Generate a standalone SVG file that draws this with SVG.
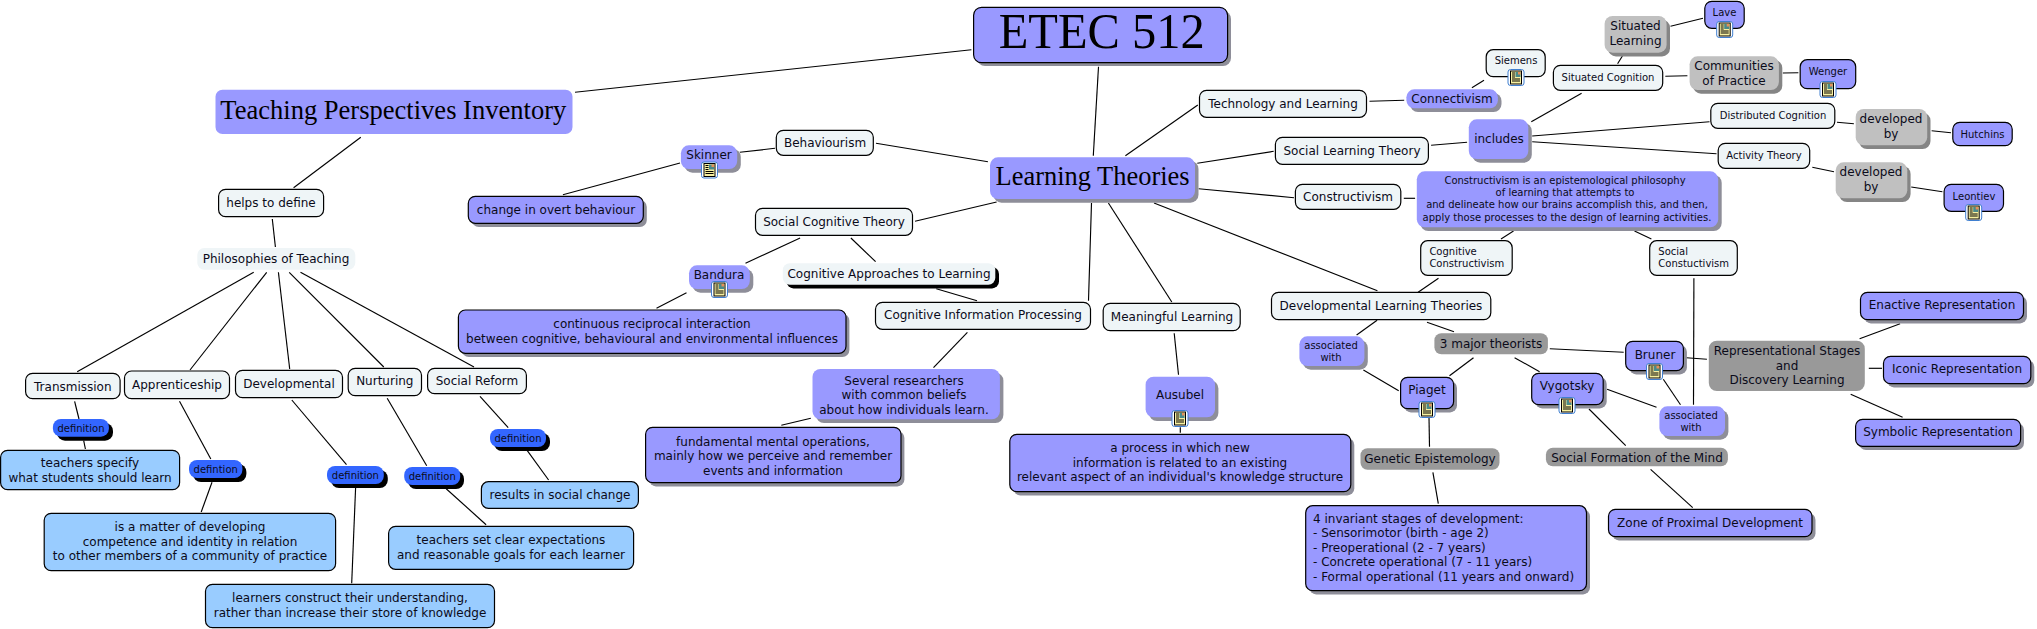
<svg xmlns="http://www.w3.org/2000/svg" width="2037" height="629" viewBox="0 0 2037 629">
<style>
text{font-family:"DejaVu Sans","Liberation Sans",sans-serif;font-size:12px;fill:#0b0b1a;text-anchor:middle}
.s{font-size:10px}
.l{text-anchor:start}
.p{font-family:"Liberation Serif",serif;fill:#000}
.k{stroke:#000;stroke-width:1.2}
.pl{fill:#9999ff}.w{fill:#eff5f7}.g1{fill:#c0c0c0}.g2{fill:#999999}.b{fill:#3366ff}.lb{fill:#99ccff}
.sg{fill:#8e8e99}.sd{fill:#858585}.sk{fill:#000}
#connectors line{stroke:#000;stroke-width:1.15}
</style>
<defs>
<g id="icon">
<rect x="0.5" y="0.5" width="16" height="16" rx="2.5" fill="#fff" stroke="#3f7fd0" stroke-width="1"/>
<rect x="3" y="2" width="11" height="13" fill="#f7f0a0" stroke="#000" stroke-width="1"/>
<rect x="8" y="3" width="5" height="5" fill="#4a8a8a"/>
<rect x="10.5" y="3" width="2.5" height="2.5" fill="#e8905a"/>
<path d="M4.5 4h3M4.5 6h3M4.5 8h3M4.5 10h8M4.5 12h8" stroke="#000" stroke-width="1" fill="none"/>
</g>
</defs>
<g id="connectors">
<line x1="575" y1="92.3" x2="971.4" y2="49.7"/>
<line x1="360.8" y1="137.3" x2="293.6" y2="187.7"/>
<line x1="272.3" y1="219" x2="275.4" y2="247"/>
<line x1="562.9" y1="194.7" x2="680" y2="163"/>
<line x1="253.7" y1="272.3" x2="77.2" y2="371.7"/>
<line x1="266.7" y1="272.3" x2="190" y2="370"/>
<line x1="278.4" y1="272.3" x2="289.7" y2="369"/>
<line x1="289.2" y1="272.3" x2="383.8" y2="367"/>
<line x1="300.5" y1="272.3" x2="474" y2="367"/>
<line x1="74.6" y1="401.3" x2="79" y2="419"/>
<line x1="83.7" y1="440.7" x2="85.4" y2="449"/>
<line x1="179.5" y1="401.3" x2="210.8" y2="459"/>
<line x1="212" y1="482.3" x2="201.2" y2="512"/>
<line x1="291.8" y1="400" x2="346.5" y2="464.7"/>
<line x1="355.6" y1="487.7" x2="351.7" y2="583.3"/>
<line x1="387.2" y1="398.3" x2="426.7" y2="465.7"/>
<line x1="446.2" y1="488.7" x2="486.1" y2="524.7"/>
<line x1="480" y1="396.3" x2="508.2" y2="427.7"/>
<line x1="527.3" y1="450.7" x2="548.6" y2="480"/>
<line x1="1098.5" y1="66.7" x2="1093.3" y2="155.7"/>
<line x1="876" y1="143.3" x2="987.9" y2="161.7"/>
<line x1="775" y1="148.3" x2="739.8" y2="152.3"/>
<line x1="1125.4" y1="155.7" x2="1197.8" y2="105"/>
<line x1="1197.3" y1="163.3" x2="1273.7" y2="151.3"/>
<line x1="1198.6" y1="188.7" x2="1294" y2="197.7"/>
<line x1="996.6" y1="202" x2="915" y2="221.3"/>
<line x1="1091.5" y1="203" x2="1088.5" y2="300.7"/>
<line x1="1108.4" y1="203" x2="1171.8" y2="302"/>
<line x1="1154" y1="203" x2="1377.4" y2="290.7"/>
<line x1="800.1" y1="238" x2="745.5" y2="263.3"/>
<line x1="850.9" y1="238" x2="875.6" y2="261.7"/>
<line x1="936.3" y1="288.7" x2="977" y2="300.7"/>
<line x1="686.5" y1="292.7" x2="656.5" y2="308.3"/>
<line x1="967.4" y1="332.3" x2="933.5" y2="367.7"/>
<line x1="810.8" y1="418.3" x2="781.3" y2="425.3"/>
<line x1="1174.2" y1="333.3" x2="1178.5" y2="374.7"/>
<line x1="1180.3" y1="427.3" x2="1180.3" y2="432.7"/>
<line x1="1369.5" y1="101.3" x2="1404.2" y2="100.3"/>
<line x1="1471.9" y1="87.7" x2="1484" y2="80.3"/>
<line x1="1431.1" y1="145.3" x2="1467.1" y2="142.3"/>
<line x1="1531.3" y1="121.7" x2="1581.6" y2="93.3"/>
<line x1="1617.6" y1="63.7" x2="1622.4" y2="56"/>
<line x1="1670.5" y1="26.3" x2="1703" y2="18.3"/>
<line x1="1665.3" y1="76.3" x2="1687.4" y2="75.7"/>
<line x1="1782.8" y1="73" x2="1798.4" y2="72.7"/>
<line x1="1532.2" y1="136" x2="1709.5" y2="121.7"/>
<line x1="1532.2" y1="141.7" x2="1716.5" y2="153.7"/>
<line x1="1837" y1="122.3" x2="1853.9" y2="123.7"/>
<line x1="1931.6" y1="130.7" x2="1951" y2="132.7"/>
<line x1="1812.3" y1="167.3" x2="1834" y2="171.7"/>
<line x1="1911.2" y1="187" x2="1942.4" y2="191.7"/>
<line x1="1403.8" y1="198.3" x2="1415.1" y2="198.3"/>
<line x1="1513.5" y1="231" x2="1501" y2="239"/>
<line x1="1634.5" y1="231" x2="1651.4" y2="239"/>
<line x1="1438.5" y1="278.3" x2="1418.1" y2="292.3"/>
<line x1="1693.9" y1="278.3" x2="1693.5" y2="404.7"/>
<line x1="1427" y1="322.3" x2="1454" y2="331.7"/>
<line x1="1377.1" y1="320.3" x2="1356.6" y2="335"/>
<line x1="1363.4" y1="370" x2="1398.7" y2="390.7"/>
<line x1="1473.5" y1="357.7" x2="1449.5" y2="375.7"/>
<line x1="1514.6" y1="357.7" x2="1539.6" y2="371.7"/>
<line x1="1549.8" y1="348.7" x2="1623.7" y2="352.3"/>
<line x1="1686.3" y1="357.7" x2="1706.9" y2="359.3"/>
<line x1="1663.3" y1="379.3" x2="1680.5" y2="404.7"/>
<line x1="1607.1" y1="389.3" x2="1656.5" y2="407.3"/>
<line x1="1589" y1="409" x2="1625.7" y2="445.7"/>
<line x1="1429" y1="417.3" x2="1429.5" y2="446.7"/>
<line x1="1432.9" y1="472.3" x2="1438.3" y2="503.7"/>
<line x1="1650.6" y1="469.3" x2="1692.7" y2="507.7"/>
<line x1="1859.6" y1="338.7" x2="1900.1" y2="323.7"/>
<line x1="1868.8" y1="368.3" x2="1882" y2="368.3"/>
<line x1="1850.7" y1="394.3" x2="1902.6" y2="417.3"/>
</g>
<g id="n-etec"><rect class="sg" x="977" y="11" width="254" height="55" rx="8"/><rect class="pl k" x="973.6" y="7.3" width="254" height="55.4" rx="8"/><text class="p" x="1101.7" y="48" style="font-size:50px" textLength="206" lengthAdjust="spacingAndGlyphs">ETEC 512</text></g>
<g id="n-tpi"><rect class="pl" x="215.5" y="89.7" width="357" height="44.3" rx="7"/><text class="p" x="393.3" y="119" style="font-size:27px" textLength="346" lengthAdjust="spacingAndGlyphs">Teaching Perspectives Inventory</text></g>
<g id="n-helps"><rect class="w k" x="218.6" y="189.3" width="105" height="27.4" rx="7"/><text x="271" y="206.5">helps to define</text></g>
<g id="n-phil"><rect class="w" x="197.3" y="248" width="158" height="21.7" rx="7"/><text x="276" y="262.5">Philosophies of Teaching</text></g>
<g id="n-trans"><rect class="w k" x="25.6" y="373.3" width="94.5" height="25.4" rx="7"/><text x="72.8" y="390.5">Transmission</text></g>
<g id="n-appr"><rect class="w k" x="124.5" y="371" width="105" height="27.7" rx="7"/><text x="177" y="388.5">Apprenticeship</text></g>
<g id="n-devl"><rect class="w k" x="235.5" y="370.3" width="107" height="27.4" rx="7"/><text x="289" y="387.5">Developmental</text></g>
<g id="n-nurt"><rect class="w k" x="348.2" y="368.3" width="73.3" height="27.4" rx="7"/><text x="384.8" y="385">Nurturing</text></g>
<g id="n-refo"><rect class="w k" x="427.6" y="368.3" width="98.8" height="25.4" rx="7"/><text x="477" y="385">Social Reform</text></g>
<g id="n-def1"><rect class="sk" x="57" y="423" width="56" height="17.7" rx="8"/><rect class="b" x="52.9" y="419" width="56" height="17.7" rx="8"/><text class="s" x="81" y="431.5">definition</text></g>
<g id="n-def2"><rect class="sk" x="193" y="464" width="53.4" height="18" rx="8"/><rect class="b" x="189" y="460" width="53.4" height="18" rx="8"/><text class="s" x="215.7" y="472.5">defintion</text></g>
<g id="n-def3"><rect class="sk" x="331" y="470" width="56.8" height="18" rx="8"/><rect class="b" x="327" y="466" width="56.8" height="18" rx="8"/><text class="s" x="355.4" y="478.5">definition</text></g>
<g id="n-def4"><rect class="sk" x="408" y="471" width="56" height="18" rx="8"/><rect class="b" x="404.2" y="467" width="56" height="18" rx="8"/><text class="s" x="432.2" y="479.5">definition</text></g>
<g id="n-def5"><rect class="sk" x="494" y="433" width="56" height="18" rx="8"/><rect class="b" x="490" y="429" width="56" height="18" rx="8"/><text class="s" x="518" y="441.5">definition</text></g>
<g id="n-d1"><rect class="lb k" x="0.6" y="450.3" width="179" height="39.4" rx="7"/><text x="90" y="467">teachers specify</text><text x="90" y="481.7">what students should learn</text></g>
<g id="n-d2"><rect class="lb k" x="44.2" y="513.3" width="291.4" height="57.4" rx="7"/><text x="190" y="531">is a matter of developing</text><text x="190" y="545.6">competence and identity in relation</text><text x="190" y="560.3">to other members of a community of practice</text></g>
<g id="n-d3"><rect class="lb k" x="205.5" y="584.3" width="289" height="43.4" rx="7"/><text x="350" y="602">learners construct their understanding,</text><text x="350" y="616.6">rather than increase their store of knowledge</text></g>
<g id="n-d4"><rect class="lb k" x="388.6" y="526.3" width="245" height="43" rx="7"/><text x="511" y="544">teachers set clear expectations</text><text x="511" y="558.6">and reasonable goals for each learner</text></g>
<g id="n-d5"><rect class="lb k" x="481.4" y="481.7" width="157" height="26.6" rx="7"/><text x="560" y="498.5">results in social change</text></g>
<g id="n-change"><rect class="sg" x="471.8" y="200" width="175" height="27" rx="7"/><rect class="pl k" x="468.3" y="196.3" width="175" height="27" rx="7"/><text x="556" y="213.5">change in overt behaviour</text></g>
<g id="n-behav"><rect class="w k" x="776.3" y="130.3" width="97" height="25" rx="7"/><text x="825" y="147">Behaviourism</text></g>
<g id="n-skinner"><rect class="sg" x="684.5" y="149" width="56.3" height="23.7" rx="8"/><rect class="pl" x="680.9" y="145.3" width="56.3" height="23.7" rx="8"/><text x="709" y="159">Skinner</text><use href="#icon" x="701" y="161.5"/></g>
<g id="n-lt"><rect class="sg" x="993.5" y="161" width="205" height="41.7" rx="8"/><rect class="pl" x="990" y="157.3" width="205" height="41.7" rx="8"/><text class="p" x="1092.6" y="185" style="font-size:27px" textLength="194" lengthAdjust="spacingAndGlyphs">Learning Theories</text></g>
<g id="n-sct"><rect class="w k" x="755.5" y="208.3" width="157" height="27" rx="7"/><text x="834" y="225.5">Social Cognitive Theory</text></g>
<g id="n-bandura"><rect class="sg" x="692.5" y="269" width="60.8" height="23.7" rx="8"/><rect class="pl" x="689" y="265.3" width="60.8" height="23.7" rx="8"/><text x="719" y="279">Bandura</text><use href="#icon" x="711" y="281"/></g>
<g id="n-cal"><rect class="sk" x="786.5" y="267" width="212.5" height="21.4" rx="7"/><rect class="w" x="782.8" y="263.3" width="212.5" height="21.4" rx="7"/><text x="889" y="277.5">Cognitive Approaches to Learning</text></g>
<g id="n-cont"><rect class="sg" x="461.8" y="313.7" width="387.6" height="43.3" rx="7"/><rect class="pl k" x="458.4" y="310" width="387.6" height="43.3" rx="7"/><text x="652" y="328">continuous reciprocal interaction</text><text x="652" y="342.6">between cognitive, behavioural and environmental influences</text></g>
<g id="n-cip"><rect class="w k" x="875.5" y="302.3" width="215" height="27" rx="7"/><text x="983" y="319">Cognitive Information Processing</text></g>
<g id="n-several"><rect class="sg" x="816" y="372.7" width="187.4" height="50.3" rx="8"/><rect class="pl" x="812.5" y="369" width="187.4" height="50.3" rx="8"/><text x="904" y="384.5">Several researchers</text><text x="904" y="399">with common beliefs</text><text x="904" y="413.6">about how individuals learn.</text></g>
<g id="n-fund"><rect class="sg" x="649" y="431" width="255.4" height="55.4" rx="7"/><rect class="pl k" x="645.6" y="427.3" width="255.4" height="55.4" rx="7"/><text x="773" y="445.5">fundamental mental operations,</text><text x="773" y="460">mainly how we perceive and remember</text><text x="773" y="474.6">events and information</text></g>
<g id="n-ml"><rect class="w k" x="1103.2" y="303.3" width="137" height="27.4" rx="7"/><text x="1172" y="320.5">Meaningful Learning</text></g>
<g id="n-ausubel"><rect class="sg" x="1149" y="380.4" width="69.4" height="40.6" rx="8"/><rect class="pl" x="1145.6" y="376.7" width="69.4" height="40.6" rx="8"/><text x="1180" y="399">Ausubel</text><use href="#icon" x="1171.5" y="410"/></g>
<g id="n-proc"><rect class="sg" x="1013.3" y="438" width="341" height="57.4" rx="7"/><rect class="pl k" x="1009.8" y="434.3" width="341" height="57.4" rx="7"/><text x="1180" y="452">a process in which new</text><text x="1180" y="466.6">information is related to an existing</text><text x="1180" y="481.2">relevant aspect of an individual's knowledge structure</text></g>
<g id="n-tech"><rect class="w k" x="1199.5" y="90.3" width="167" height="27" rx="7"/><text x="1283" y="107.5">Technology and Learning</text></g>
<g id="n-slt"><rect class="w k" x="1275.4" y="137.3" width="153" height="27" rx="7"/><text x="1352" y="154.5">Social Learning Theory</text></g>
<g id="n-con"><rect class="w k" x="1295.4" y="184.3" width="105.4" height="25" rx="7"/><text x="1348" y="201">Constructivism</text></g>
<g id="n-dlt"><rect class="w k" x="1271.5" y="292.3" width="219.3" height="27.4" rx="7"/><text x="1381" y="309.5">Developmental Learning Theories</text></g>
<g id="n-conn"><rect class="sg" x="1410" y="93" width="91.5" height="19" rx="8"/><rect class="pl" x="1406.4" y="89.3" width="91.5" height="19" rx="8"/><text x="1452" y="103">Connectivism</text></g>
<g id="n-siemens"><rect class="w k" x="1486.2" y="49.7" width="59" height="27" rx="7"/><text class="s" x="1516" y="64">Siemens</text><use href="#icon" x="1507.5" y="69"/></g>
<g id="n-sitc"><rect class="w k" x="1553.4" y="65.3" width="109.3" height="25" rx="7"/><text class="s" x="1608" y="80.5">Situated Cognition</text></g>
<g id="n-sitl"><rect class="sd" x="1608" y="19.7" width="62" height="36.7" rx="8"/><rect class="g1" x="1604.6" y="16" width="62" height="36.7" rx="8"/><text x="1635.5" y="30">Situated</text><text x="1635.5" y="44.6">Learning</text></g>
<g id="n-lave"><rect class="pl k" x="1704.8" y="1.3" width="39.4" height="27" rx="7"/><text class="s" x="1724.5" y="16">Lave</text><use href="#icon" x="1716.2" y="21"/></g>
<g id="n-comm"><rect class="sd" x="1693" y="60" width="89.3" height="33.7" rx="8"/><rect class="g1" x="1689.6" y="56.3" width="89.3" height="33.7" rx="8"/><text x="1734" y="70">Communities</text><text x="1734" y="84.6">of Practice</text></g>
<g id="n-wenger"><rect class="pl k" x="1800.2" y="59.7" width="55.5" height="29" rx="7"/><text class="s" x="1828" y="74.5">Wenger</text><use href="#icon" x="1819.5" y="81"/></g>
<g id="n-incl"><rect class="sg" x="1472.3" y="123" width="59.5" height="39.7" rx="8"/><rect class="pl" x="1468.8" y="119.3" width="59.5" height="39.7" rx="8"/><text x="1499" y="143">includes</text></g>
<g id="n-dist"><rect class="w k" x="1710.8" y="103.3" width="124" height="25" rx="7"/><text class="s" x="1773" y="119">Distributed Cognition</text></g>
<g id="n-act"><rect class="w k" x="1718.2" y="143.3" width="91.5" height="25" rx="7"/><text class="s" x="1764" y="159">Activity Theory</text></g>
<g id="n-dev1"><rect class="sd" x="1859" y="112.7" width="71.5" height="36.3" rx="8"/><rect class="g1" x="1855.7" y="109" width="71.5" height="36.3" rx="8"/><text x="1891" y="123">developed</text><text x="1891" y="137.6">by</text></g>
<g id="n-hutch"><rect class="pl k" x="1952.8" y="122.3" width="59.4" height="23.4" rx="7"/><text class="s" x="1982.5" y="137.5">Hutchins</text></g>
<g id="n-dev2"><rect class="sd" x="1839" y="166" width="71.6" height="36" rx="8"/><rect class="g1" x="1835.7" y="162.3" width="71.6" height="36" rx="8"/><text x="1871" y="176">developed</text><text x="1871" y="190.6">by</text></g>
<g id="n-leon"><rect class="pl k" x="1944.1" y="184.3" width="59.4" height="27" rx="7"/><text class="s" x="1974" y="199.5">Leontiev</text><use href="#icon" x="1965.2" y="204"/></g>
<g id="n-desc"><rect class="sg" x="1420.3" y="175" width="301.4" height="56" rx="8"/><rect class="pl" x="1416.8" y="171.3" width="301.4" height="56" rx="8"/><text class="s" x="1565" y="184">Constructivism is an epistemological philosophy</text><text class="s" x="1565" y="196">of learning that attempts to</text><text class="s" x="1567" y="208">and delineate how our brains accomplish this, and then,</text><text class="s" x="1567" y="220.5">apply those processes to the design of learning activities.</text></g>
<g id="n-cogc"><rect class="w k" x="1420.7" y="240.7" width="91.5" height="34.6" rx="7"/><text class="s l" x="1429.4" y="255">Cognitive</text><text class="s l" x="1429.4" y="267">Constructivism</text></g>
<g id="n-socc"><rect class="w k" x="1649.7" y="240.7" width="87.6" height="34.6" rx="7"/><text class="s l" x="1658.3" y="255">Social</text><text class="s l" x="1658.3" y="267">Constuctivism</text></g>
<g id="n-3maj"><rect class="g2" x="1434.4" y="333.3" width="113.5" height="21" rx="7"/><text x="1491" y="347.5">3 major theorists</text></g>
<g id="n-as1"><rect class="sg" x="1302.8" y="340" width="65" height="29.7" rx="8"/><rect class="pl" x="1299.4" y="336.3" width="65" height="29.7" rx="8"/><text class="s" x="1331" y="349">associated</text><text class="s" x="1331" y="361">with</text></g>
<g id="n-piaget"><rect class="sg" x="1404" y="381" width="53" height="31.4" rx="7"/><rect class="pl k" x="1400.6" y="377.3" width="53" height="31.4" rx="7"/><text x="1427" y="393.5">Piaget</text><use href="#icon" x="1418.5" y="401"/></g>
<g id="n-vyg"><rect class="sg" x="1535.2" y="377" width="71.5" height="31.4" rx="7"/><rect class="pl k" x="1531.7" y="373.3" width="71.5" height="31.4" rx="7"/><text x="1567" y="390">Vygotsky</text><use href="#icon" x="1558.5" y="397"/></g>
<g id="n-bruner"><rect class="sg" x="1629.2" y="345" width="57.7" height="29.4" rx="7"/><rect class="pl k" x="1625.7" y="341.3" width="57.7" height="29.4" rx="7"/><text x="1655" y="358.5">Bruner</text><use href="#icon" x="1646" y="363"/></g>
<g id="n-as2"><rect class="sg" x="1662.8" y="410" width="65.6" height="29.7" rx="8"/><rect class="pl" x="1659.4" y="406.3" width="65.6" height="29.7" rx="8"/><text class="s" x="1691" y="419">associated</text><text class="s" x="1691" y="431">with</text></g>
<g id="n-rep"><rect class="g2" x="1708.8" y="340.7" width="156" height="50.3" rx="8"/><text x="1787" y="355">Representational Stages</text><text x="1787" y="369.6">and</text><text x="1787" y="384.2">Discovery Learning</text></g>
<g id="n-ena"><rect class="sg" x="1864" y="296" width="163" height="27.4" rx="7"/><rect class="pl k" x="1860.5" y="292.3" width="163" height="27.4" rx="7"/><text x="1942" y="309">Enactive Representation</text></g>
<g id="n-ico"><rect class="sg" x="1887" y="360" width="147.3" height="27.4" rx="7"/><rect class="pl k" x="1883.5" y="356.3" width="147.3" height="27.4" rx="7"/><text x="1957" y="373">Iconic Representation</text></g>
<g id="n-sym"><rect class="sg" x="1859" y="423" width="165" height="27" rx="7"/><rect class="pl k" x="1855.6" y="419.3" width="165" height="27" rx="7"/><text x="1938" y="436">Symbolic Representation</text></g>
<g id="n-gen"><rect class="g2" x="1360.5" y="448.3" width="139" height="21.4" rx="7"/><text x="1430" y="462.5">Genetic Epistemology</text></g>
<g id="n-sform"><rect class="g2" x="1545.9" y="447.7" width="182" height="18.6" rx="7"/><text x="1637" y="461.5">Social Formation of the Mind</text></g>
<g id="n-inv"><rect class="sg" x="1309.2" y="509.4" width="280.8" height="85" rx="7"/><rect class="pl k" x="1305.7" y="505.7" width="280.8" height="85" rx="7"/><text class="l" x="1313" y="522.5">4 invariant stages of development:</text><text class="l" x="1313" y="537">- Sensorimotor (birth - age 2)</text><text class="l" x="1313" y="551.7">- Preoperational (2 - 7 years)</text><text class="l" x="1313" y="566.2">- Concrete operational (7 - 11 years)</text><text class="l" x="1313" y="580.7">- Formal operational (11 years and onward)</text></g>
<g id="n-zone"><rect class="sg" x="1612" y="513" width="203.5" height="27.4" rx="7"/><rect class="pl k" x="1608.5" y="509.3" width="203.5" height="27.4" rx="7"/><text x="1710" y="526.5">Zone of Proximal Development</text></g>
</svg>
